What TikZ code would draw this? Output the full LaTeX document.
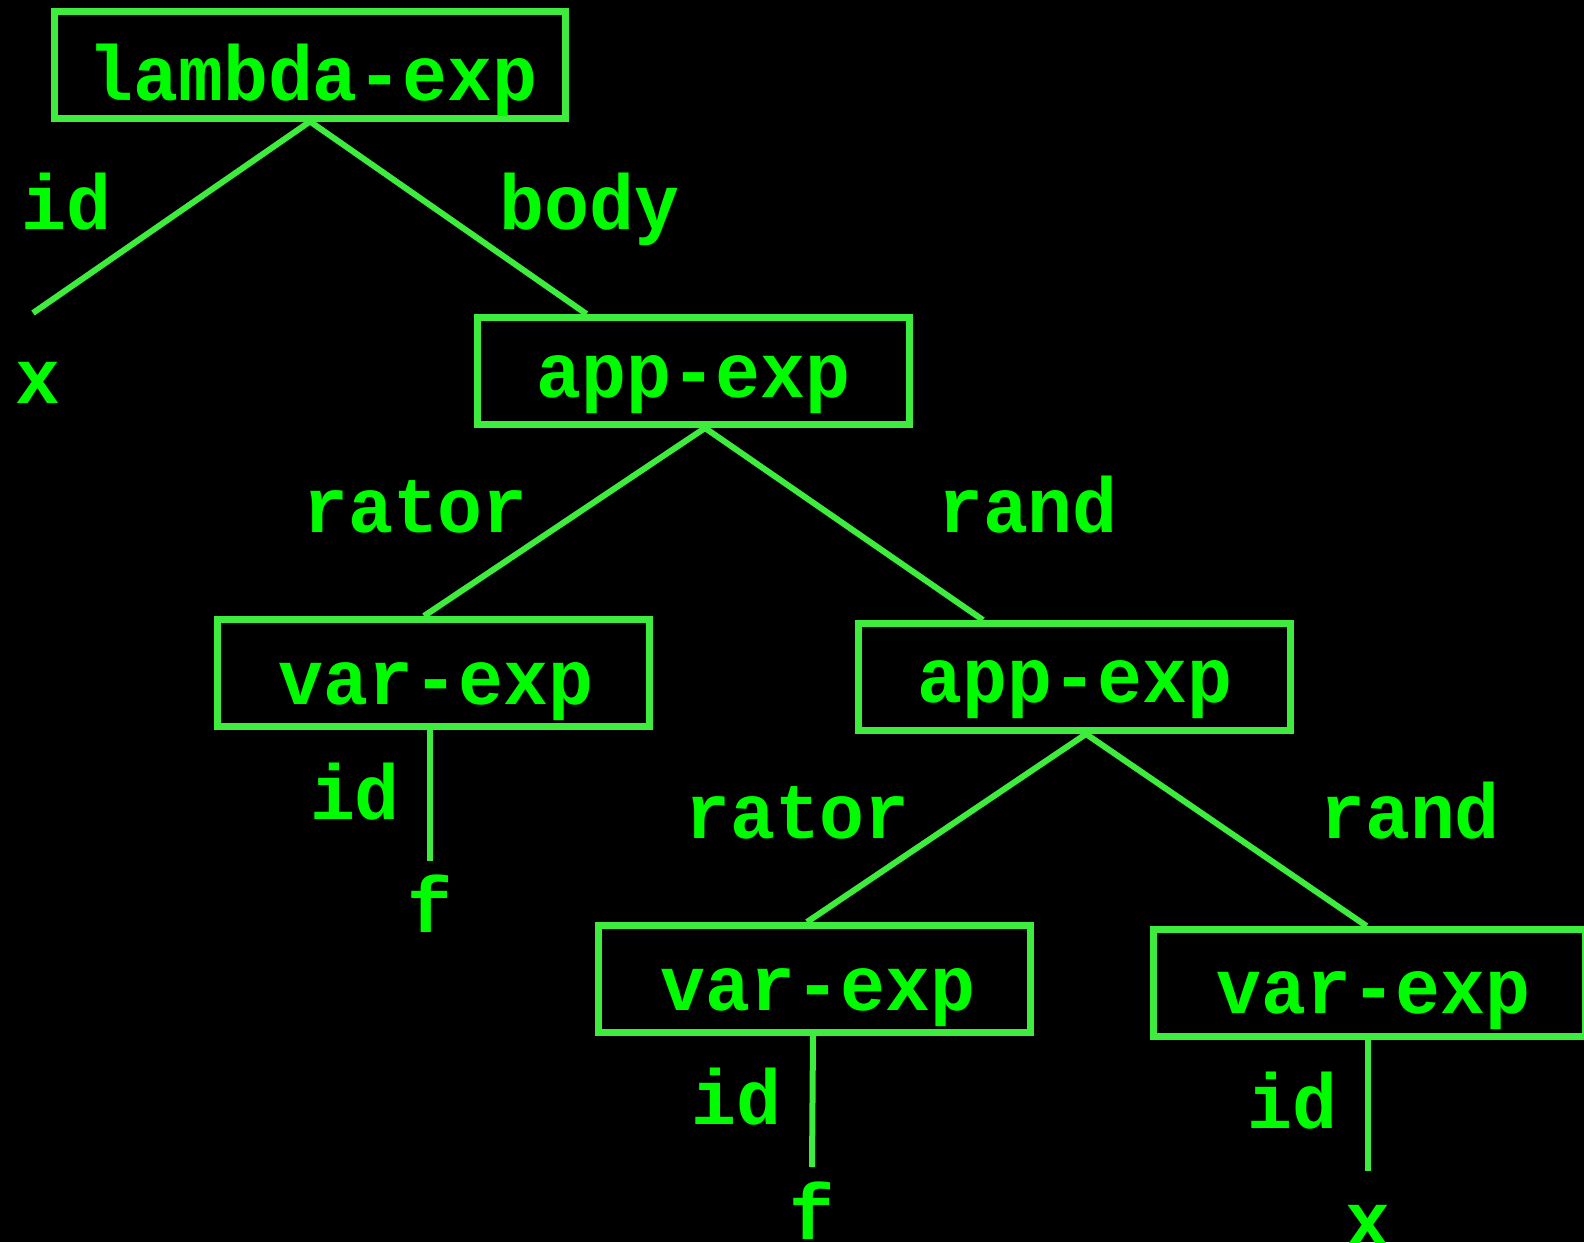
\documentclass[tikz,border=0pt]{standalone}
\usepackage{fontspec}
\newfontfamily\treefont[FakeStretch=0.96]{Liberation Mono}
\usetikzlibrary{calc}
\definecolor{wire}{RGB}{62,236,62}
\definecolor{ink}{RGB}{0,252,0}
\tikzset{
  exptype/.style={draw=wire, line width=3.5pt, inner sep=0pt,
    minimum width=216pt, minimum height=53.5pt},
  edge/.style={draw=wire, line width=3pt},
  word/.style={text=ink, inner sep=0pt, anchor=base,
    font=\treefont\bfseries\fontsize{39pt}{40pt}\selectfont},
}
\begin{document}
\begin{tikzpicture}[x=0.5pt, y=-0.5pt]
  % canvas
  \fill[black] (0,0) rectangle (1584,1242);
  \useasboundingbox (0,0) rectangle (1584,1242);

  % expression boxes
  \node[exptype, minimum width=255.5pt] (lam) at (310,64.5) {};
  \node[exptype] (app1) at (693,371) {};
  \node[exptype] (var1) at (433,673) {};
  \node[exptype] (app2) at (1074.5,677) {};
  \node[exptype] (var2) at (814,979) {};
  \node[exptype] (var3) at (1369.5,983) {};

  % box titles
  \node[word] (tlam) at (313,100) {lambda-exp};
  \node[word] (tapp1) at (693.5,397) {app-exp};
  \node[word] (tvar1) at (436,704) {var-exp};
  \node[word] (tapp2) at (1075,702) {app-exp};
  \node[word] (tvar2) at (818,1010) {var-exp};
  \node[word] (tvar3) at (1373.5,1013) {var-exp};

  % field labels
  \node[word] (lid) at (66.5,229) {id};
  \node[word] (lbody) at (589.5,229) {body};
  \node[word] (lrator1) at (415.5,532) {rator};
  \node[word] (lrand1) at (1028,532) {rand};
  \node[word] (lid1) at (355,819) {id};
  \node[word] (lrator2) at (797.5,838) {rator};
  \node[word] (lrand2) at (1410,838) {rand};
  \node[word] (lid2) at (736,1124) {id};
  \node[word] (lid3) at (1292,1128) {id};

  % leaf identifiers
  \node[word] (leafx1) at (37.5,403) {x};
  \node[word] (leaff1) at (430,932) {f};
  \node[word] (leaff2) at (812,1239) {f};
  \node[word] (leafx2) at (1368,1246) {x};

  % free ends of the leaf connectors
  \coordinate (endx1) at (33,313);
  \coordinate (endf1) at (430,861);
  \coordinate (endf2) at (812,1167);
  \coordinate (endx2) at (1368,1171);

  % connectors
  \draw[edge] (lam.south) -- (endx1);
  \draw[edge] (lam.south) -- ([xshift=56.5pt]app1.north west);
  \draw[edge] ([xshift=6pt]app1.south) -- ([xshift=-4.5pt]var1.north);
  \draw[edge] ([xshift=6pt]app1.south) -- ([xshift=64pt]app2.north west);
  \draw[edge] ([xshift=5.75pt]app2.south) -- ([xshift=-3.5pt]var2.north);
  \draw[edge] ([xshift=5.75pt]app2.south) -- ([xshift=108.25pt]var3.north west);
  \draw[edge] ([xshift=-1.5pt]var1.south) -- (endf1);
  \draw[edge] ([xshift=-0.5pt]var2.south) -- (endf2);
  \draw[edge] ([xshift=-0.75pt]var3.south) -- (endx2);
\end{tikzpicture}
\end{document}
